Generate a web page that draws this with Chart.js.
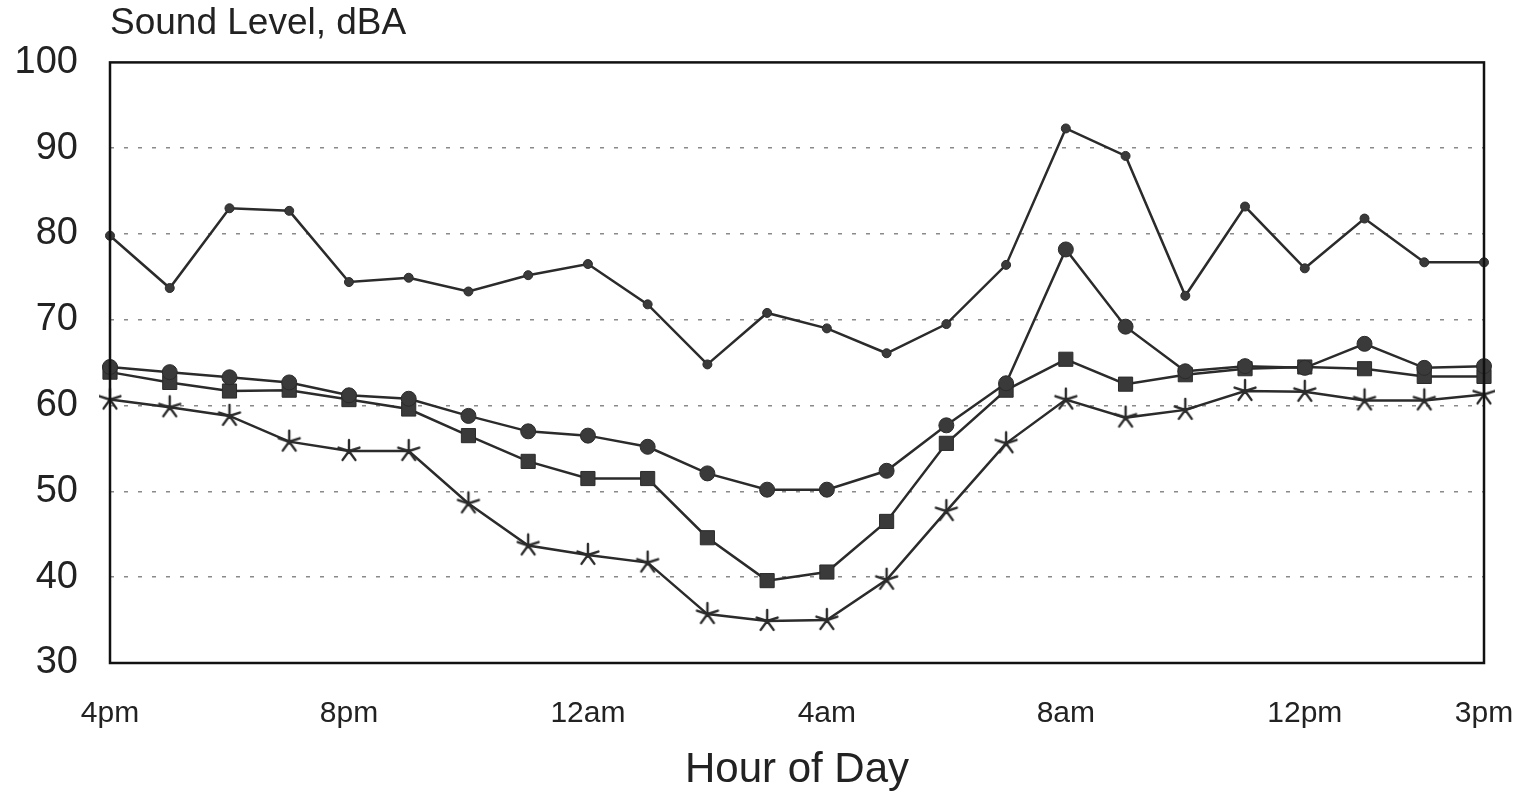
<!DOCTYPE html>
<html>
<head>
<meta charset="utf-8">
<script src="https://cdn.jsdelivr.net/npm/chart.js@4"></script>
<style>
  body { margin: 0; background: #fff; }
  #wrap { width: 1522px; height: 798px; position: relative; }
</style>
</head>
<body>
<div id="wrap"><canvas id="soundChart"></canvas></div>
<script>
// Hourly values, 4pm through 3pm next day
const hours = ['4pm', '5pm', '6pm', '7pm', '8pm', '9pm', '10pm', '11pm', '12am', '1am', '2am', '3am',
  '4am', '5am', '6am', '7am', '8am', '9am', '10am', '11am', '12pm', '1pm', '2pm', '3pm'];
const labeledHours = ['4pm', '8pm', '12am', '4am', '8am', '12pm', '3pm'];

const maxLevel = [79.8, 73.7, 83.0, 82.7, 74.4, 74.9, 73.3, 75.2, 76.5, 71.8, 64.8, 70.8,
  69.0, 66.1, 69.5, 76.4, 92.3, 89.1, 72.8, 83.2, 76.0, 81.8, 76.7, 76.7];
const avgLevel = [64.5, 63.9, 63.3, 62.7, 61.2, 60.8, 58.8, 57.0, 56.5, 55.2, 52.1, 50.2,
  50.2, 52.4, 57.7, 62.6, 78.2, 69.2, 64.0, 64.6, 64.4, 67.2, 64.4, 64.6];
const midLevel = [63.9, 62.7, 61.7, 61.8, 60.7, 59.6, 56.5, 53.5, 51.5, 51.5, 44.6, 39.6,
  40.6, 46.5, 55.6, 61.8, 65.4, 62.5, 63.6, 64.3, 64.5, 64.3, 63.4, 63.4];
const lowLevel = [60.7, 59.8, 58.8, 55.8, 54.7, 54.7, 48.6, 43.7, 42.6, 41.7, 35.7, 34.9,
  35.0, 39.7, 47.7, 55.6, 60.7, 58.6, 59.5, 61.7, 61.6, 60.6, 60.6, 61.3];

const inkColor = '#2b2b2b';
const fontFamily = 'Liberation Sans, Arial, sans-serif';

// Five-armed asterisk marker, drawn once on a small canvas
const makeAsterisk = () => {
  const c = document.createElement('canvas');
  c.width = 26;
  c.height = 26;
  const ctx = c.getContext('2d');
  ctx.strokeStyle = inkColor;
  ctx.lineWidth = 2.4;
  ctx.lineCap = 'round';
  ctx.beginPath();
  for (let k = 0; k < 5; k++) {
    const a = -Math.PI / 2 + k * 2 * Math.PI / 5;
    ctx.moveTo(13, 13);
    ctx.lineTo(13 + 11 * Math.cos(a), 13 + 11 * Math.sin(a));
  }
  ctx.stroke();
  return c;
};

const makeDataset = (data, style, radius) => ({
  data: data,
  borderColor: inkColor,
  backgroundColor: inkColor,
  borderWidth: 2.5,
  pointStyle: style,
  pointRadius: radius,
  pointBorderWidth: 1,
  pointBackgroundColor: '#3a3a3a',
  pointBorderColor: inkColor,
  tension: 0,
  fill: false
});

// Frame round the plot area (top and right sides too)
const framePlugin = {
  id: 'frame',
  afterDraw: (chart) => {
    const { ctx, chartArea } = chart;
    ctx.save();
    ctx.strokeStyle = '#111';
    ctx.lineWidth = 2.5;
    ctx.strokeRect(chartArea.left, chartArea.top, chartArea.right - chartArea.left, chartArea.bottom - chartArea.top);
    ctx.restore();
  }
};

const config = {
  type: 'line',
  data: {
    labels: hours,
    datasets: [
      makeDataset(maxLevel, 'circle', 4.5),
      makeDataset(avgLevel, 'circle', 7.5),
      makeDataset(midLevel, 'rect', 10),
      makeDataset(lowLevel, makeAsterisk(), 10)
    ]
  },
  options: {
    responsive: true,
    maintainAspectRatio: false,
    animation: false,
    layout: { padding: { left: 0, right: 38, top: 0, bottom: 0 } },
    plugins: {
      legend: { display: false },
      tooltip: { enabled: false },
      title: {
        display: true,
        text: 'Sound Level, dBA',
        align: 'start',
        fullSize: false,
        color: '#222',
        font: { family: fontFamily, size: 37, weight: 'normal', lineHeight: 1.2 },
        padding: { top: 2, bottom: 16 }
      }
    },
    scales: {
      x: {
        offset: false,
        afterFit: (scale) => {
          scale.height = 135;
          scale.paddingLeft = 0;
          scale.paddingRight = 0;
        },
        grid: { display: false, drawTicks: false },
        border: { display: false },
        ticks: {
          autoSkip: false,
          maxRotation: 0,
          padding: 33,
          color: '#222',
          font: { family: fontFamily, size: 30 },
          callback: function (value) {
            const label = this.getLabelForValue(value);
            return labeledHours.includes(label) ? label : '';
          }
        },
        title: {
          display: true,
          text: 'Hour of Day',
          color: '#222',
          font: { family: fontFamily, size: 42, lineHeight: 1.2 },
          padding: { top: 10, bottom: 2 }
        }
      },
      y: {
        min: 30,
        max: 100,
        afterFit: (scale) => { scale.width = 110; },
        ticks: {
          stepSize: 10,
          padding: 32,
          color: '#222',
          font: { family: fontFamily, size: 38 }
        },
        grid: {
          drawTicks: false,
          color: (ctx) => (ctx.tick && (ctx.tick.value === 30 || ctx.tick.value === 100)) ? 'rgba(0,0,0,0)' : '#8a8a8a',
          lineWidth: 1.5
        },
        border: { display: false, dash: [4, 10] }
      }
    }
  },
  plugins: [framePlugin]
};

new Chart(document.getElementById('soundChart'), config);
</script>
</body>
</html>
